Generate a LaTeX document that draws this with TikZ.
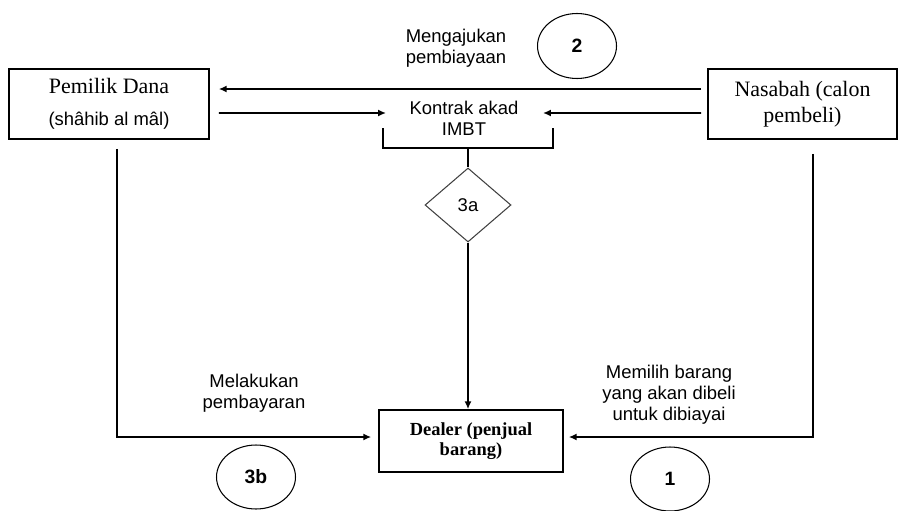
\documentclass[tikz,border=0pt]{standalone}
\usepackage{fontspec}
\setmainfont{Liberation Serif}
\setsansfont{Liberation Sans}
\usetikzlibrary{shapes.geometric,arrows.meta}

\begin{document}
\begin{tikzpicture}[x=0.02cm,y=-0.02cm]
\tikzstyle{every node}=[font=\sffamily\fontsize{10.5}{12}\selectfont]
\tikzstyle{pihak}=[draw,line width=0.9pt,minimum height=1.4cm,align=center,font=\rmfamily\fontsize{12.5}{15}\selectfont]
\tikzstyle{nomor}=[draw,ellipse,line width=0.6pt,minimum width=1.58cm,minimum height=1.3cm,font=\sffamily\bfseries\fontsize{11}{13}\selectfont]
\tikzstyle{alur}=[line width=0.9pt,-{Latex[length=4.5pt,width=4pt]}]
\useasboundingbox (0,0) rectangle (898,510);

\node[pihak,minimum width=4cm] (pemilik) at (109,104) {Pemilik Dana\\[3pt]{\sffamily\fontsize{10.5}{12}\selectfont (shâhib al mâl)}};
\node[pihak,minimum width=3.78cm] (nasabah) at (802.5,104) {Nasabah (calon\\pembeli)};
\node[pihak,minimum width=3.68cm,minimum height=1.24cm,font=\rmfamily\bfseries\fontsize{10.5}{11.5}\selectfont] (dealer) at (471,441) {Dealer (penjual\\barang)};

\node[align=center] (kontrak) at (464,118) {Kontrak akad\\IMBT};
\node[draw=black!75,diamond,aspect=1.16,line width=0.6pt,minimum width=1.72cm,minimum height=1.48cm,inner sep=0pt] (d3a) at (468,205) {3a};

\node[nomor] (n2) at (577,46) {2};
\node[nomor,minimum height=1.28cm] (n3b) at (256,477) {3b};
\node[nomor,minimum height=1.28cm] (n1) at (670,479) {1};

\node[align=center] (lbl2) at (456,48) {Mengajukan\\pembiayaan};
\node[align=center] (lbl3b) at (254,393) {Melakukan\\pembayaran};
\node[align=center] (lbl1) at (669,395) {Memilih barang\\yang akan dibeli\\untuk dibiayai};

\coordinate (kiri) at (386,113);
\coordinate (kanan) at (543,113);
\coordinate (kurung) at (468,148);

% pengajuan pembiayaan dan akad
\draw[alur] ([xshift=-0.12cm,yshift=0.3cm]nasabah.west) -- ([xshift=0.18cm,yshift=0.3cm]pemilik.east);
\draw[alur] ([xshift=0.18cm,yshift=-0.18cm]pemilik.east) -- (kiri);
\draw[alur] ([xshift=-0.12cm,yshift=-0.18cm]nasabah.west) -- (kanan);
\draw[line width=0.9pt] (383,128) |- (kurung) -| (553,128);
\draw[line width=0.9pt] (kurung) -- (d3a.north);
\draw[alur] (d3a.south) -- (d3a.south |- dealer.north);

% pembayaran dan pemilihan barang
\draw[alur] ([xshift=0.16cm,yshift=-0.18cm]pemilik.south) |- ([xshift=-0.14cm,yshift=0.08cm]dealer.west);
\draw[alur] ([xshift=0.21cm,yshift=-0.28cm]nasabah.south) |- ([xshift=0.1cm,yshift=0.08cm]dealer.east);
\end{tikzpicture}
\end{document}
